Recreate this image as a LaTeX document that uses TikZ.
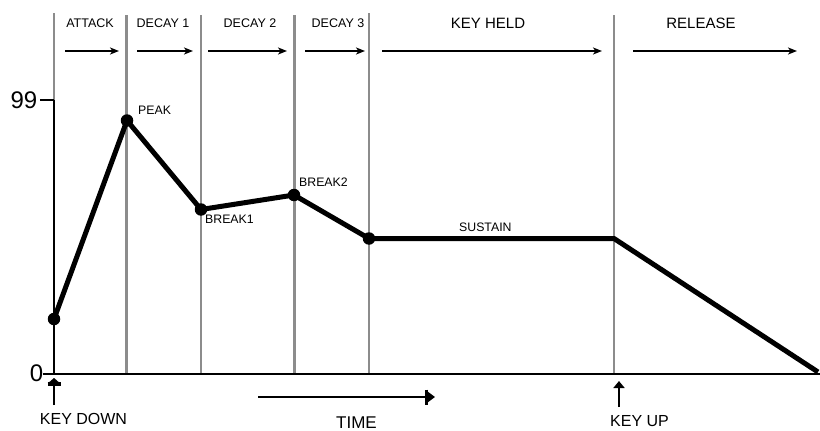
\documentclass[tikz,border=0pt]{standalone}
\usepackage{fontspec}
\setmainfont{Liberation Sans}
\usetikzlibrary{arrows.meta}
\definecolor{gridgray}{HTML}{8C8C8C}
\begin{document}
\begin{tikzpicture}[x=1pt,y=-1pt,
  gridline/.style={draw=gridgray, line width=2.4pt},
  axisline/.style={draw=black, line width=2pt},
  env/.style={draw=black, line width=5pt, line join=round},
  dot/.style={circle, fill=black, inner sep=0pt, minimum size=12.5pt},
  phase/.style={inner sep=0pt, font=\fontsize{12.5}{14}\selectfont},
  bigphase/.style={inner sep=0pt, font=\fontsize{15}{17}\selectfont},
  ptlabel/.style={inner sep=0pt, font=\fontsize{12.3}{14}\selectfont},
  botlabel/.style={inner sep=0pt, font=\fontsize{16}{18}\selectfont},
  numlabel/.style={inner sep=0pt, font=\fontsize{24}{26}\selectfont},
  phasearrow/.style={draw=black, line width=2.2pt, -{Stealth[length=9pt,width=7pt,inset=2.5pt]}},
  keyarrow/.style={draw=black, line width=2.8pt, -{Triangle[length=7pt,width=11pt]}},
]
\useasboundingbox (0,0) rectangle (820,431);

% grid lines
\foreach \i/\x/\t in {1/126.3/15,2/201/15,3/294.3/15,4/369/13,5/614/15}{
  \coordinate (gt\i) at (\x,\t);
  \coordinate (gb\i) at (\x,374);
  \draw[gridline] (gt\i) -- (gb\i);
}
\coordinate (yaxtop) at (54,13);
\coordinate (yax99) at (54,100);
\coordinate (yax0) at (54,374);
\draw[gridline] (yaxtop) -- (yax99);

% axes
\coordinate (xaxl) at (43,374);
\coordinate (xaxr) at (820,374);
\coordinate (tick99) at (40,100);
\draw[axisline] (xaxl) -- (xaxr);
\draw[axisline] (yax99) -- (yax0);
\draw[axisline] (tick99) -- (yax99);
\node[numlabel] (l99) at (24,100.5) {99};
\node[numlabel] (l0) at (36.5,373.5) {0};

% phase labels
\node[phase] (attack) at (90,22.7) {ATTACK};
\node[phase] (decay1) at (163,22.7) {DECAY 1};
\node[phase] (decay2) at (250,22.7) {DECAY 2};
\node[phase] (decay3) at (338,22.7) {DECAY 3};
\node[bigphase] (keyheld) at (488,23.5) {KEY HELD};
\node[bigphase] (release) at (701,23.5) {RELEASE};

% phase arrows
\foreach \i/\a/\b in {1/65/119,2/137/193,3/208/287,4/305/365,5/382/602,6/633/797}{
  \coordinate (pa\i) at (\a,51);
  \coordinate (pb\i) at (\b,51);
  \draw[phasearrow] (pa\i) -- (pb\i);
}

% envelope
\coordinate (start) at (54,319);
\coordinate (peak) at (127,120.5);
\coordinate (break1) at (201,209.5);
\coordinate (break2) at (294,195);
\coordinate (sus) at (369,238.5);
\coordinate (keyup) at (614,238.5);
\coordinate (endpt) at (818,372);
\draw[env] (start) -- (peak) -- (break1) -- (break2) -- (sus) -- (keyup) -- (endpt);
\foreach \p in {start,peak,break1,break2,sus}{
  \node[dot] at (\p) {};
}
\node[ptlabel, anchor=west] (lpeak) at (138,110.5) {PEAK};
\node[ptlabel, anchor=west] (lbreak1) at (205,219) {BREAK1};
\node[ptlabel, anchor=west] (lbreak2) at (299,182) {BREAK2};
\node[ptlabel, anchor=west] (lsus) at (459,227) {SUSTAIN};

% key markers
\coordinate (kdb) at (54,405);
\coordinate (kdt) at (54,378);
\draw[draw=black, line width=2.8pt, -{Bar[width=13pt,line width=3.5pt]Triangle[length=4pt,width=9pt]}] (kdb) -- (kdt);
\coordinate (kub) at (619,407);
\coordinate (kut) at (619,381);
\draw[keyarrow] (kub) -- (kut);
\node[botlabel] (keydown) at (83.5,419) {KEY DOWN};
\node[botlabel] (keyuplbl) at (639.5,421.5) {KEY UP};

% time arrow
\coordinate (ta) at (258,397);
\coordinate (tb) at (435,397);
\draw[draw=black, line width=2.8pt, -{Bar[width=15pt,line width=3pt]Triangle[length=7pt,width=10pt]}] (ta) -- (tb);
\node[inner sep=0pt, font=\fontsize{17}{19}\selectfont] (time) at (356.5,422.5) {TIME};
\end{tikzpicture}
\end{document}
